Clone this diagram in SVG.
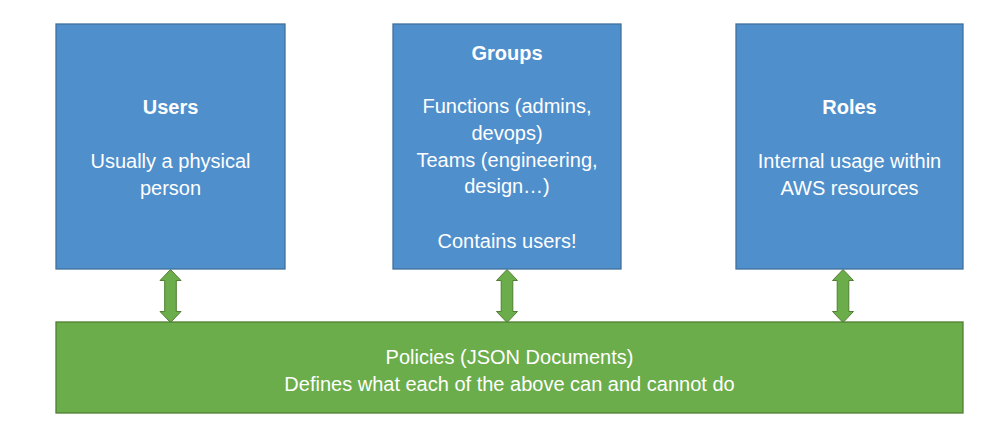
<svg xmlns="http://www.w3.org/2000/svg" width="998" height="435" viewBox="0 0 998 435">
  <defs>
    <style>
      .box { fill: #4f8fcc; stroke: #41719c; stroke-width: 1.3; }
      .policy { fill: #6bac4b; stroke: #507e32; stroke-width: 1.3; }
      .arrow { fill: #6bac4b; stroke: #507e32; stroke-width: 1; }
      text { font-family: "Liberation Sans", Arial, sans-serif; font-size: 20px; fill: #ffffff; text-anchor: middle; }
      .title { font-weight: bold; }
    </style>
    <!-- vertical double-headed block arrow, centred on x=0, from y=0 to y=53 -->
    <path id="dbl" d="M0,0 L10.5,11 L5.8,11 L5.8,42 L10.5,42 L0,53 L-10.5,42 L-5.8,42 L-5.8,11 L-10.5,11 Z"/>
  </defs>

  <g id="connectors">
    <use href="#dbl" class="arrow" x="170.5" y="269.5"/>
    <use href="#dbl" class="arrow" x="507" y="269.5"/>
    <use href="#dbl" class="arrow" x="843" y="269.5"/>
  </g>

  <g id="users">
    <rect class="box" x="56" y="24" width="229" height="245"/>
    <text class="title" x="170.5" y="114">Users</text>
    <text x="170.5" y="168">Usually a physical</text>
    <text x="170.5" y="195">person</text>
  </g>

  <g id="groups">
    <rect class="box" x="393" y="24" width="228" height="245"/>
    <text class="title" x="507" y="60">Groups</text>
    <text x="507" y="113">Functions (admins,</text>
    <text x="507" y="140">devops)</text>
    <text x="507" y="167">Teams (engineering,</text>
    <text x="507" y="193">design…)</text>
    <text x="507" y="248">Contains users!</text>
  </g>

  <g id="roles">
    <rect class="box" x="736" y="24" width="227" height="245"/>
    <text class="title" x="849.5" y="114">Roles</text>
    <text x="849.5" y="168">Internal usage within</text>
    <text x="849.5" y="195">AWS resources</text>
  </g>

  <g id="policies">
    <rect class="policy" x="56" y="322" width="907" height="91"/>
    <text x="509.5" y="364">Policies (JSON Documents)</text>
    <text x="509.5" y="391">Defines what each of the above can and cannot do</text>
  </g>
</svg>
